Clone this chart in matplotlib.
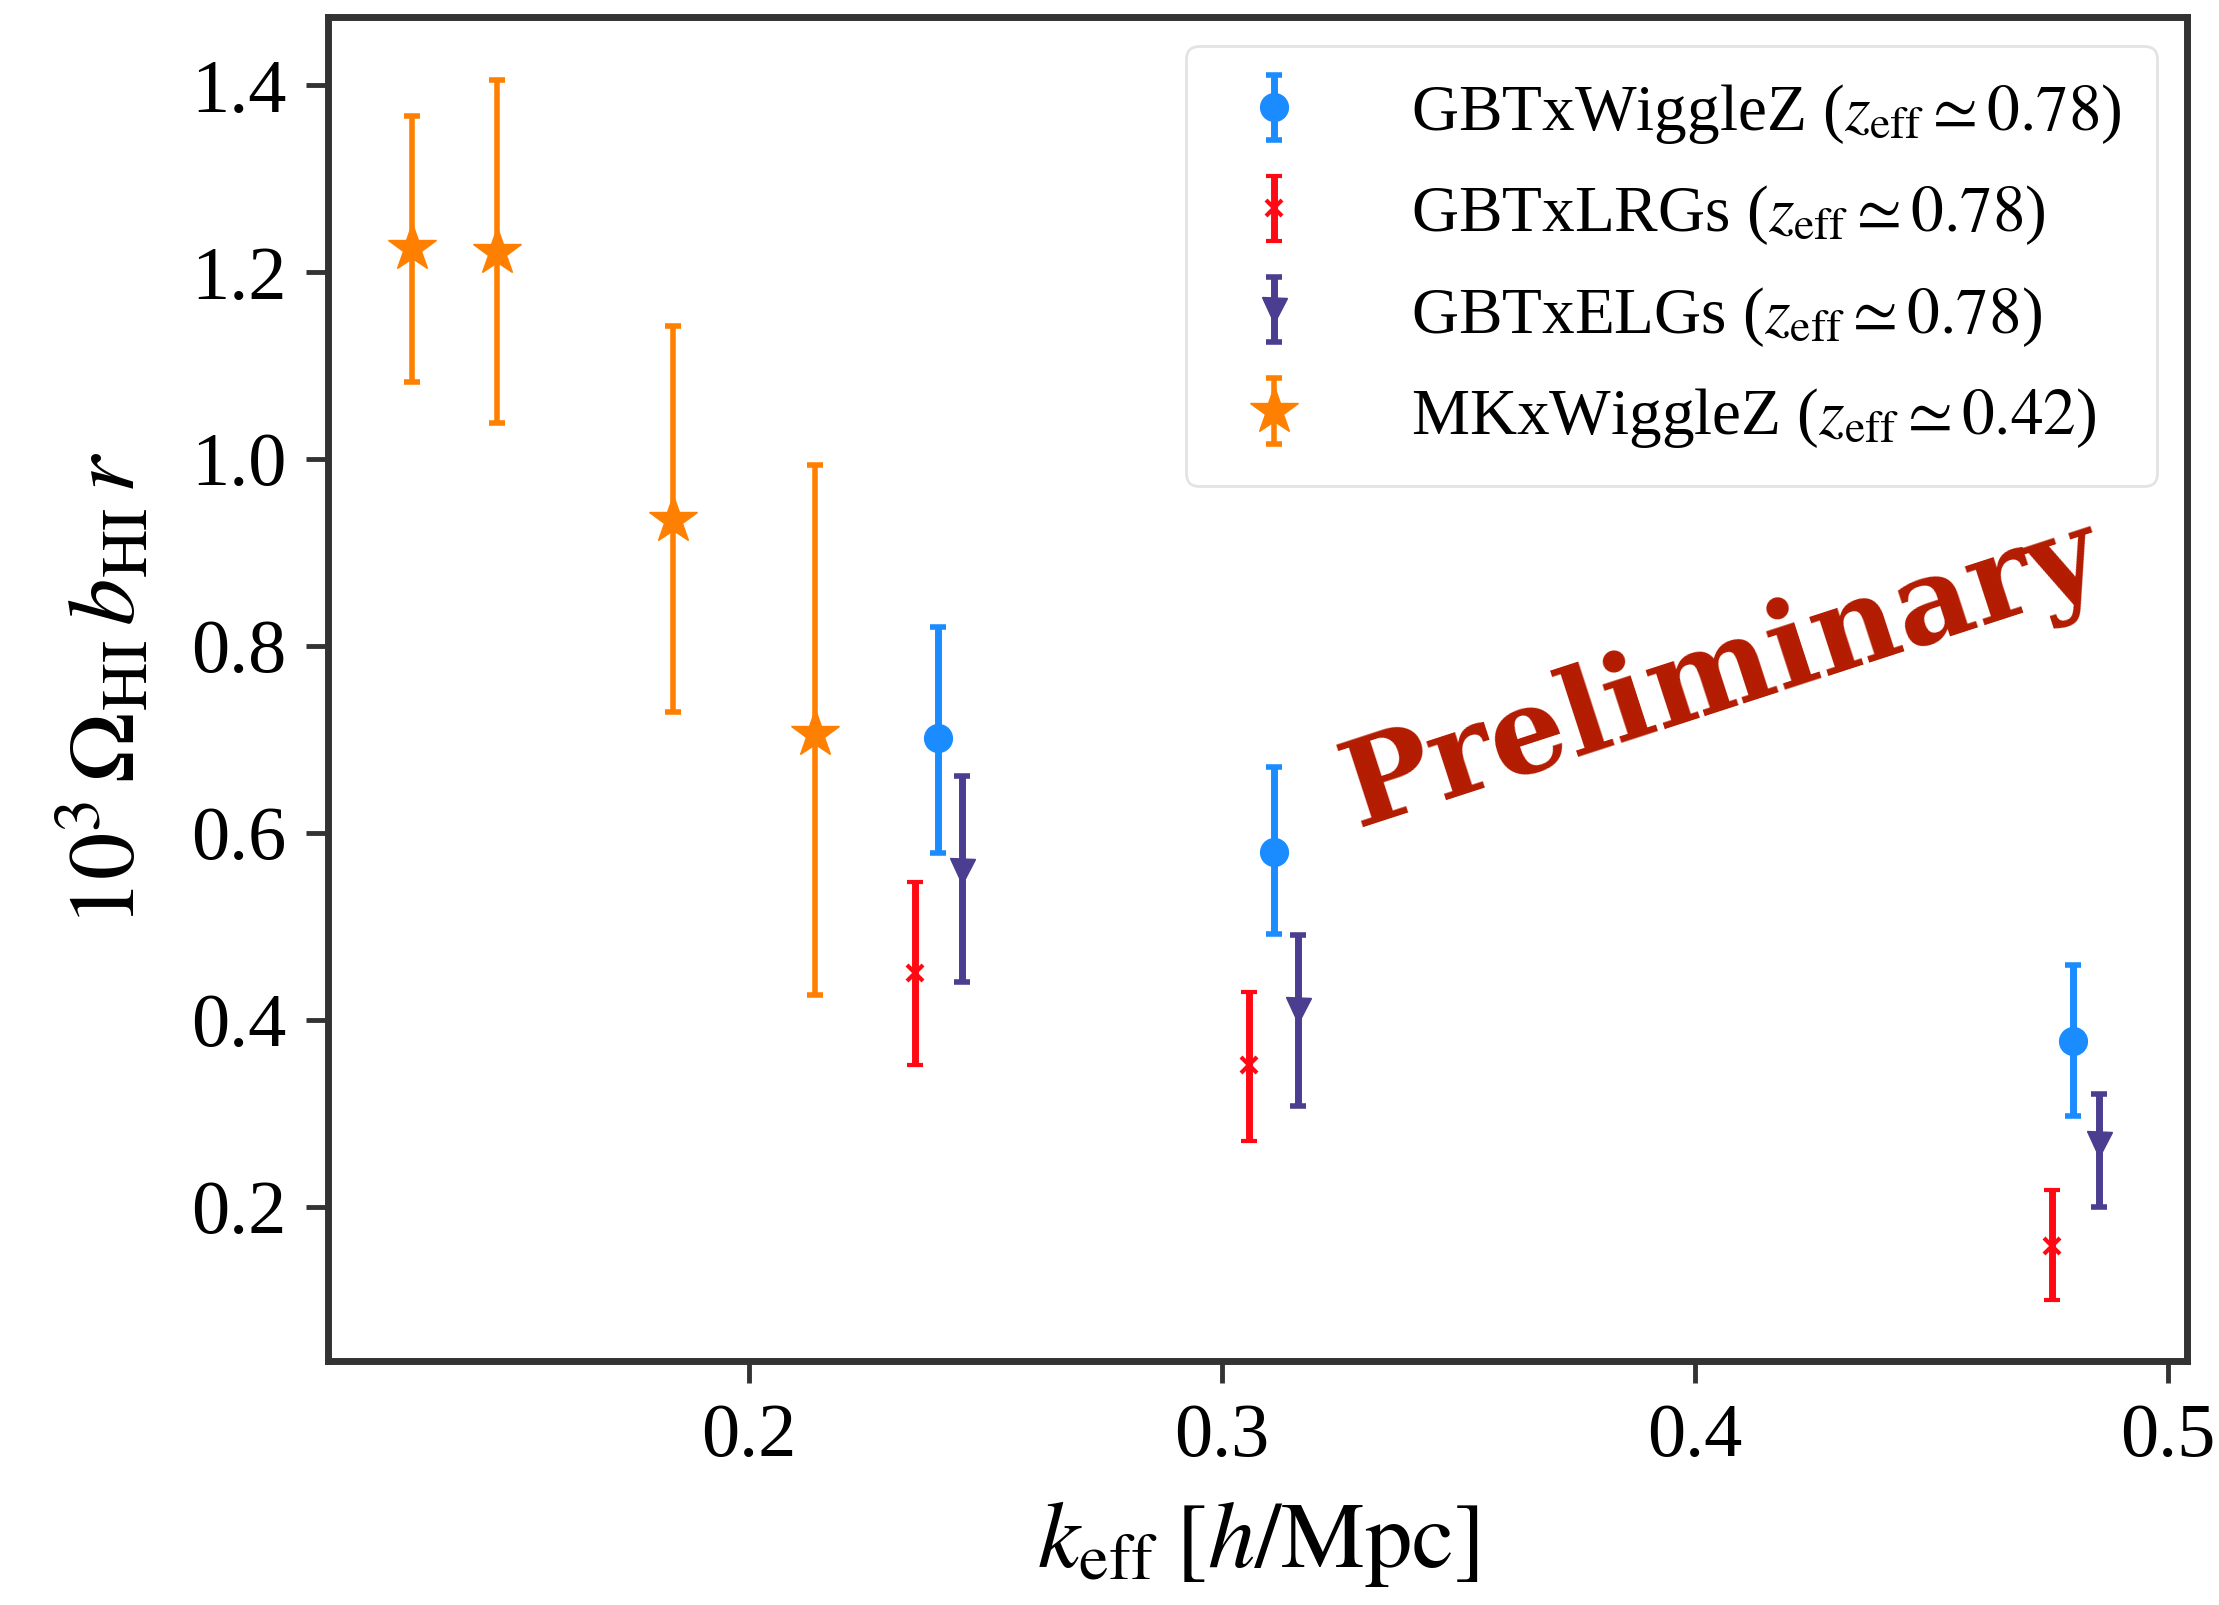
import matplotlib
matplotlib.use("Agg")
import matplotlib.pyplot as plt
import numpy as np

plt.rcParams["font.family"] = ["Liberation Serif", "DejaVu Serif"]
plt.rcParams["mathtext.fontset"] = "stix"

# MeerKAT x WiggleZ
mk_k = [0.1287, 0.1467, 0.1838, 0.2138]
mk_val = [1.226, 1.221, 0.935, 0.706]
mk_lo = [1.082, 1.039, 0.729, 0.427]
mk_hi = [1.367, 1.405, 1.142, 0.994]

# GBT x WiggleZ
wz_k = [0.240, 0.311, 0.480]
wz_val = [0.702, 0.580, 0.377]
wz_lo = [0.579, 0.492, 0.297]
wz_hi = [0.820, 0.670, 0.459]

# GBT x eBOSS LRGs
lrg_k = [0.235, 0.3057, 0.4754]
lrg_val = [0.450, 0.352, 0.158]
lrg_lo = [0.352, 0.270, 0.100]
lrg_hi = [0.548, 0.430, 0.218]

# GBT x eBOSS ELGs
elg_k = [0.245, 0.316, 0.4854]
elg_val = [0.559, 0.411, 0.267]
elg_lo = [0.440, 0.308, 0.200]
elg_hi = [0.661, 0.491, 0.321]

x_ticks = [0.2, 0.3, 0.4, 0.5]
y_ticks = [0.2, 0.4, 0.6, 0.8, 1.0, 1.2, 1.4]


def yerr(val, lo, hi):
    v = np.asarray(val)
    return np.vstack([v - np.asarray(lo), np.asarray(hi) - v])


fig = plt.figure(figsize=(22.19, 16.05), dpi=100)
ax = fig.add_axes([0.148, 0.152, 0.8375, 0.8375])

ax.errorbar(wz_k, wz_val, yerr=yerr(wz_val, wz_lo, wz_hi), fmt="o",
            color="#1a8cff", ms=20, elinewidth=5, capsize=6, capthick=4,
            label=r"GBTxWiggleZ ($z_{\rm eff}\simeq 0.78$)")
ax.errorbar(lrg_k, lrg_val, yerr=yerr(lrg_val, lrg_lo, lrg_hi), fmt="x",
            color="#ff0a14", ms=12, mew=3, elinewidth=5, capsize=6, capthick=4,
            label=r"GBTxLRGs ($z_{\rm eff}\simeq 0.78$)")
ax.errorbar(elg_k, elg_val, yerr=yerr(elg_val, elg_lo, elg_hi), fmt="v",
            color="#4b3d8f", ms=18, elinewidth=5, capsize=6, capthick=4,
            label=r"GBTxELGs ($z_{\rm eff}\simeq 0.78$)")
ax.errorbar(mk_k, mk_val, yerr=yerr(mk_val, mk_lo, mk_hi), fmt="*",
            color="#ff8000", ms=36, elinewidth=4, capsize=6, capthick=4,
            label=r"MKxWiggleZ ($z_{\rm eff}\simeq 0.42$)")

ax.set_xlim(0.111, 0.504)
ax.set_ylim(0.035, 1.473)
ax.set_xticks(x_ticks)
ax.set_yticks(y_ticks)
ax.set_xticklabels([f"{t:.1f}" for t in x_ticks])
ax.set_yticklabels([f"{t:.1f}" for t in y_ticks])

for s in ax.spines.values():
    s.set_linewidth(5)
    s.set_color("#333333")
ax.tick_params(axis="both", which="major", direction="out", length=16,
               width=3.5, labelsize=55, pad=14, color="#333333")

ax.set_xlabel(r"$k_{\rm eff}\;[h/{\rm Mpc}]$", fontsize=68, labelpad=20)
ax.set_ylabel(r"$10^3\,\Omega_{\rm HI}\,b_{\rm HI}\,r$", fontsize=68, labelpad=26)

leg = ax.legend(loc="upper right", fontsize=47, frameon=True, fancybox=True,
                borderpad=0.55, labelspacing=0.57, handletextpad=1.3,
                handlelength=1.6, borderaxespad=0.45)
leg.get_frame().set_edgecolor("#dddddd")
leg.get_frame().set_linewidth(2)

ax.text(0.75, 0.51, "Preliminary", transform=ax.transAxes, rotation=18,
        ha="center", va="center", fontsize=86, fontweight="bold",
        family="DejaVu Serif", color="#b31b00")

fig.savefig("out.png", dpi=100)
